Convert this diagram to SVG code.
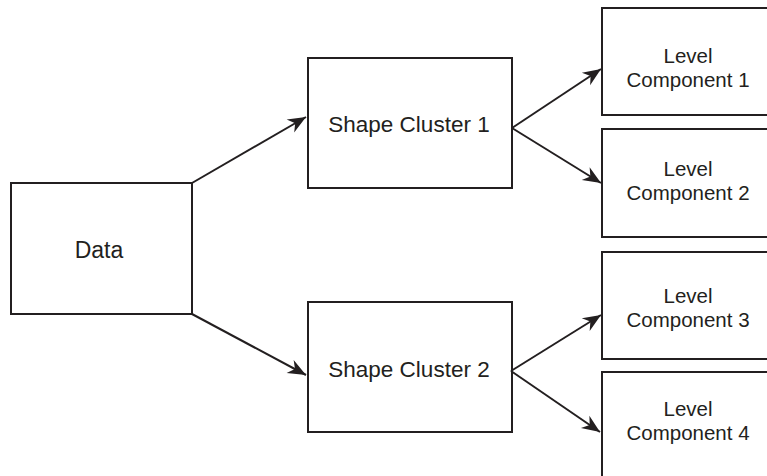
<svg xmlns="http://www.w3.org/2000/svg" width="767" height="476" viewBox="0 0 767 476">
<style>
.box{fill:#fff;stroke:#231f20;stroke-width:2}
.lbl{font-family:"Liberation Sans",Arial,sans-serif;fill:#231f20;text-anchor:middle}
.big{font-size:23px}
.mid{font-size:22.5px}
.sm{font-size:20.5px}
.con{stroke:#231f20;stroke-width:2;fill:none;marker-end:url(#ah)}
</style>
<defs>
<marker id="ah" markerUnits="userSpaceOnUse" viewBox="-19 -9 20 18" refX="0" refY="0" markerWidth="20" markerHeight="18" orient="auto">
<path d="M0,0 L-18,-7.5 L-12.5,0 L-18,7.5 Z" fill="#231f20"/>
</marker>
</defs>
<g id="data"><rect class="box" x="11" y="183" width="181" height="131"/><text class="lbl big" x="99" y="258">Data</text></g>
<g id="sc1"><rect class="box" x="308" y="58" width="204" height="130"/><text class="lbl mid" x="409" y="132">Shape Cluster 1</text></g>
<g id="sc2"><rect class="box" x="308" y="302" width="204" height="130"/><text class="lbl mid" x="409" y="377">Shape Cluster 2</text></g>
<g id="lc1"><rect class="box" x="602" y="8" width="170" height="107"/><text class="lbl sm" x="688" y="63">Level</text><text class="lbl sm" x="688" y="87">Component 1</text></g>
<g id="lc2"><rect class="box" x="602" y="129" width="170" height="108"/><text class="lbl sm" x="688" y="176">Level</text><text class="lbl sm" x="688" y="200">Component 2</text></g>
<g id="lc3"><rect class="box" x="602" y="252" width="170" height="107"/><text class="lbl sm" x="688" y="303">Level</text><text class="lbl sm" x="688" y="327">Component 3</text></g>
<g id="lc4"><rect class="box" x="602" y="372" width="170" height="110"/><text class="lbl sm" x="688" y="416">Level</text><text class="lbl sm" x="688" y="440">Component 4</text></g>
<g id="connectors">
<line class="con" x1="192" y1="183" x2="306" y2="117"/>
<line class="con" x1="192" y1="314" x2="306" y2="375"/>
<line class="con" x1="512" y1="128" x2="601" y2="69"/>
<line class="con" x1="512" y1="128" x2="601" y2="183"/>
<line class="con" x1="511" y1="371" x2="601" y2="315"/>
<line class="con" x1="511" y1="371" x2="600" y2="432"/>
</g>
</svg>
